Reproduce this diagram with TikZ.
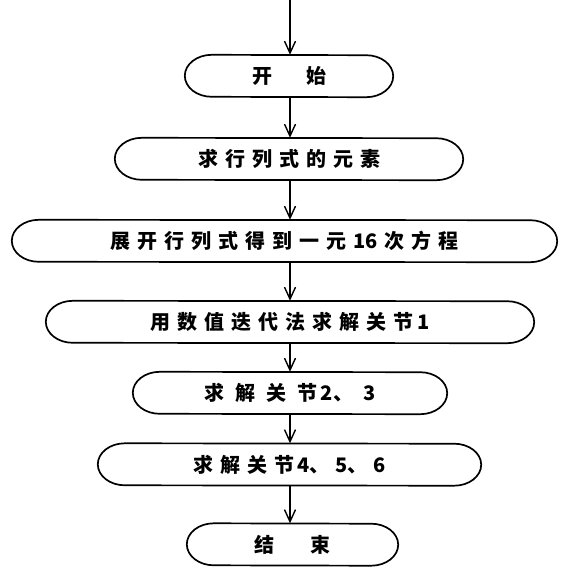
\documentclass[tikz,border=0pt]{standalone}
\usepackage{fontspec}
\newfontfamily\cjk{Noto Sans CJK SC}
\usetikzlibrary{arrows.meta}
\newcommand\gp{\hspace{7pt}}
\newcommand\wgp{\hspace{11pt}}
\begin{document}
\begin{tikzpicture}[x=1pt,y=-1pt,
  termbox/.style={rectangle, draw=none, inner sep=0pt, minimum height=42pt,
    font=\cjk\bfseries\fontsize{20pt}{22pt}\selectfont},
  outline/.style={line width=1.7pt},
  flow/.style={line width=1.4pt, -{Straight Barb[length=12pt,width=11pt,line width=1.4pt]}}]
\useasboundingbox (0,0) rectangle (560,567);
\coordinate (axis) at (290,0);
\coordinate (in) at (290,0);
\node[termbox, minimum width=154pt] (start) at (289,76) {开\hspace{34pt}始};
\node[termbox, minimum width=294pt] (elem) at (289,159) {求\gp 行\gp 列\gp 式\gp 的\gp 元\gp 素};
\node[termbox, minimum width=491pt] (expand) at (284.5,241) {展\gp 开\gp 行\gp 列\gp 式\gp 得\gp 到\gp 一\gp 元\gp 16\gp 次\gp 方\gp 程};
\node[termbox, minimum width=434pt] (iter) at (290,322) {用\gp 数\gp 值\gp 迭\gp 代\gp 法\gp 求\gp 解\gp 关\gp 节\,1};
\node[termbox, minimum width=260pt] (j23) at (290,393) {求\wgp 解\wgp 关\wgp 节\,2、\hspace{10pt}3};
\node[termbox, minimum width=329pt] (j456) at (289.5,464.5) {求\gp 解\gp 关\gp 节\,4、\hspace{6pt}5、\hspace{6pt}6};
\node[termbox, minimum width=157pt] (stop) at (292.5,544.5) {结\hspace{36pt}束};
\foreach \n in {start,elem,expand,iter,j23,j456,stop}{
  \draw[outline] (\n.north west) arc[start angle=90,end angle=270,x radius=27pt,y radius=21pt]
    -- (\n.south east) arc[start angle=-90,end angle=90,x radius=27pt,y radius=21pt] -- cycle;
}
\draw[flow] (in) -- (axis |- start.north);
\draw[flow] (axis |- start.south) -- (axis |- elem.north);
\draw[flow] (axis |- elem.south) -- (axis |- expand.north);
\draw[flow] (axis |- expand.south) -- (axis |- iter.north);
\draw[flow] (axis |- iter.south) -- (axis |- j23.north);
\draw[flow] (axis |- j23.south) -- (axis |- j456.north);
\draw[flow] (axis |- j456.south) -- (axis |- stop.north);
\end{tikzpicture}
\end{document}
